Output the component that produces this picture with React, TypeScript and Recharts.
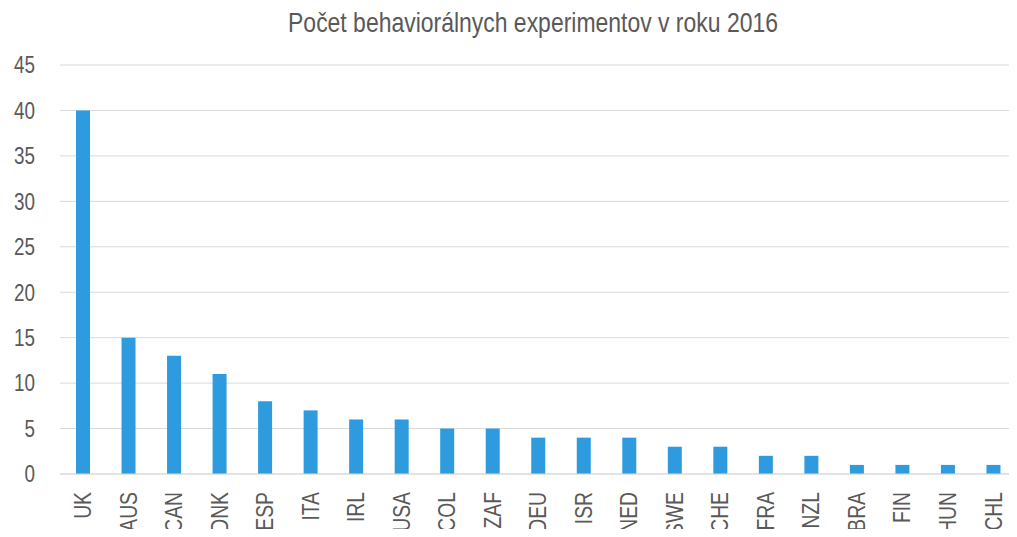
// Bar chart: number of behavioural experiments per country in 2016

import { BarChart, Bar, XAxis, YAxis, CartesianGrid } from 'recharts'

const countries = [
  'UK', 'AUS', 'CAN', 'DNK', 'ESP', 'ITA', 'IRL', 'USA', 'COL', 'ZAF', 'DEU',
  'ISR', 'NED', 'SWE', 'CHE', 'FRA', 'NZL', 'BRA', 'FIN', 'HUN', 'CHL',
]
const experiments = [40, 15, 13, 11, 8, 7, 6, 6, 5, 5, 4, 4, 4, 3, 3, 2, 2, 1, 1, 1, 1]
const yTicks = [0, 5, 10, 15, 20, 25, 30, 35, 40, 45]
const title = 'Počet behaviorálnych experimentov v roku 2016'

const W = 1017
const H = 537
const NARROW = 0.82 // the reference uses a narrow sans face
const TEXT = '#595959'
const FONT = '"Liberation Sans", Arial, sans-serif'

const data = countries.map((c, i) => ({ country: c, value: experiments[i] }))

// Y tick: right-aligned, narrow
function YTick({ x, y, payload }: { x?: number; y?: number; payload?: { value: number } }) {
  return (
    <text
      transform={`translate(${x},${y}) scale(${NARROW},1)`}
      textAnchor="end"
      dy="0.36em"
      fontSize={23}
      fontFamily={FONT}
      fill={TEXT}
    >
      {payload?.value}
    </text>
  )
}

// X tick: rotated -90, reading bottom to top
function XTick({ x, y, payload }: { x?: number; y?: number; payload?: { value: string } }) {
  return (
    <text
      transform={`translate(${x},${y}) rotate(-90) scale(0.84,1)`}
      textAnchor="end"
      dy="0.36em"
      fontSize={23}
      fontFamily={FONT}
      fill={TEXT}
    >
      {payload?.value}
    </text>
  )
}

export default function App() {
  return (
    <div style={{ margin: -8, position: 'relative', width: W, height: H, background: '#fff' }}>
      <svg
        width={W}
        height={50}
        style={{ position: 'absolute', left: 0, top: 0, pointerEvents: 'none' }}
      >
        <text
          transform={`translate(533,32) scale(${NARROW},1)`}
          textAnchor="middle"
          fontSize={28}
          fontFamily={FONT}
          fill={TEXT}
        >
          {title}
        </text>
      </svg>
      <BarChart
        width={W}
        height={H}
        data={data}
        margin={{ top: 65, right: 1, left: 0, bottom: 0 }}
        barCategoryGap={0}
      >
        <CartesianGrid vertical={false} stroke="#d9d9d9" />
        <XAxis
          dataKey="country"
          height={63}
          interval={0}
          tickLine={false}
          tickSize={0}
          tickMargin={18}
          axisLine={{ stroke: '#d9d9d9' }}
          tick={<XTick />}
        />
        <YAxis
          width={60}
          domain={[0, 45]}
          ticks={yTicks}
          axisLine={false}
          tickLine={false}
          tickSize={0}
          tickMargin={25}
          tick={<YTick />}
        />
        <Bar dataKey="value" fill="#2e9bde" barSize={14} isAnimationActive={false} />
      </BarChart>
    </div>
  )
}
